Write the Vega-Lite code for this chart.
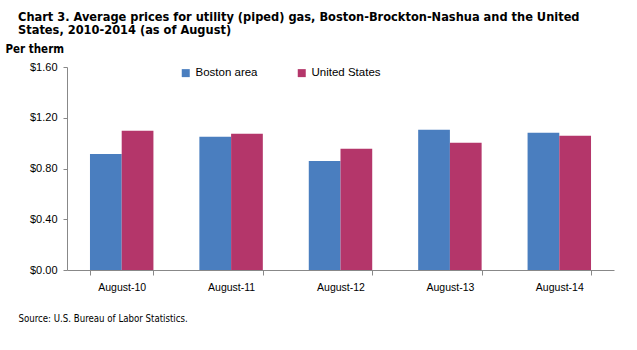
{
  "$schema": "https://vega.github.io/schema/vega-lite/v6.json",
  "autosize": "none",
  "width": 547,
  "height": 203,
  "padding": {"left": 67, "top": 67, "right": 23, "bottom": 80},
  "background": "white",
  "title": {
    "text": ["Chart 3. Average prices for utility (piped) gas, Boston-Brockton-Nashua and the United", "States, 2010-2014 (as of August)"],
    "anchor": "start",
    "frame": "group",
    "dx": -49,
    "dy": -5,
    "font": "DejaVu Sans Condensed, Liberation Sans, sans-serif",
    "fontSize": 12.7,
    "fontWeight": "bold",
    "color": "#000000",
    "lineHeight": 13.5,
    "offset": 1
  },
  "data": {
    "values": [
      {"month": "August-10", "series": "Boston area", "price": 0.915},
      {"month": "August-10", "series": "United States", "price": 1.097},
      {"month": "August-11", "series": "Boston area", "price": 1.050},
      {"month": "August-11", "series": "United States", "price": 1.073},
      {"month": "August-12", "series": "Boston area", "price": 0.860},
      {"month": "August-12", "series": "United States", "price": 0.955},
      {"month": "August-13", "series": "Boston area", "price": 1.105},
      {"month": "August-13", "series": "United States", "price": 1.002},
      {"month": "August-14", "series": "Boston area", "price": 1.081},
      {"month": "August-14", "series": "United States", "price": 1.058}
    ]
  },
  "mark": {"type": "bar"},
  "encoding": {
    "x": {
      "field": "month",
      "type": "nominal",
      "sort": null,
      "scale": {"paddingInner": 0.42, "paddingOuter": 0.21},
      "axis": {
        "title": "Source: U.S. Bureau of Labor Statistics.",
        "titleX": -49,
        "titleY": 51,
        "titleAlign": "left",
        "titleBaseline": "alphabetic",
        "titleFont": "DejaVu Sans Condensed, Liberation Sans, sans-serif",
        "titleFontSize": 9.6,
        "titleFontWeight": "normal",
        "titleColor": "#000000",
        "labelAngle": 0,
        "labelFont": "Liberation Sans",
        "labelFontSize": 10.5,
        "labelColor": "#000000",
        "labelPadding": 7,
        "tickBand": "extent",
        "tickSize": 5,
        "tickColor": "#888888",
        "domainColor": "#888888",
        "grid": false
      }
    },
    "xOffset": {
      "field": "series",
      "type": "nominal",
      "scale": {"paddingInner": 0, "paddingOuter": 0}
    },
    "y": {
      "field": "price",
      "type": "quantitative",
      "scale": {"domain": [0, 1.6]},
      "axis": {
        "values": [0, 0.4, 0.8, 1.2, 1.6],
        "format": "$.2f",
        "title": "Per therm",
        "titleAngle": 0,
        "titleX": -62,
        "titleY": -15,
        "titleAlign": "left",
        "titleBaseline": "alphabetic",
        "titleFont": "DejaVu Sans Condensed, Liberation Sans, sans-serif",
        "titleFontSize": 11.5,
        "titleFontWeight": "bold",
        "titleColor": "#000000",
        "labelFont": "Liberation Sans",
        "labelFontSize": 11,
        "labelColor": "#000000",
        "labelPadding": 6,
        "tickSize": 4,
        "tickColor": "#888888",
        "domainColor": "#888888",
        "grid": false
      }
    },
    "color": {
      "field": "series",
      "type": "nominal",
      "scale": {"domain": ["Boston area", "United States"], "range": ["#4a7ebf", "#b4366a"]},
      "legend": {
        "title": null,
        "orient": "none",
        "legendX": 113,
        "legendY": 0,
        "direction": "horizontal",
        "symbolType": "square",
        "symbolSize": 64,
        "symbolStrokeWidth": 0,
        "labelFont": "Liberation Sans",
        "labelFontSize": 11.5,
        "labelColor": "#000000",
        "columnPadding": 38,
        "labelOffset": 4
      }
    }
  },
  "config": {
    "view": {"stroke": null}
  }
}
